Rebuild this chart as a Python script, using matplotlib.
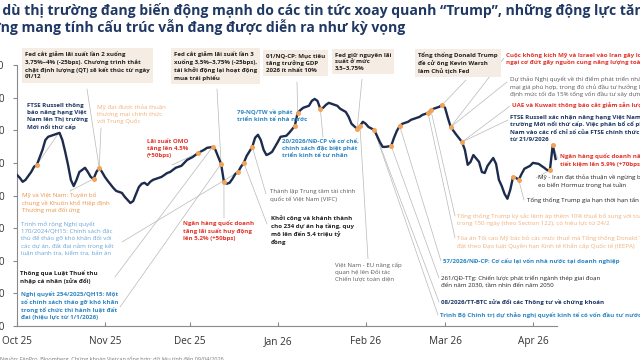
import numpy as np
import pandas as pd
import matplotlib
matplotlib.use("Agg")
import matplotlib.pyplot as plt
import matplotlib.dates as mdates

plt.rcParams["font.family"] = ["Open Sans", "DejaVu Sans"]

# VN-Index path
dates = [
    "2025-10-01", "2025-10-02", "2025-10-03", "2025-10-04", "2025-10-06", "2025-10-07", "2025-10-08",
    "2025-10-10", "2025-10-11", "2025-10-12", "2025-10-14", "2025-10-15", "2025-10-16", "2025-10-17",
    "2025-10-18", "2025-10-19", "2025-10-20", "2025-10-21", "2025-10-22", "2025-10-23", "2025-10-25",
    "2025-10-26", "2025-10-27", "2025-10-28", "2025-10-29", "2025-10-30", "2025-10-31",
    "2025-11-01", "2025-11-02", "2025-11-04", "2025-11-05", "2025-11-07", "2025-11-08", "2025-11-10",
    "2025-11-11", "2025-11-12", "2025-11-13", "2025-11-14", "2025-11-15", "2025-11-16", "2025-11-17",
    "2025-11-18", "2025-11-20", "2025-11-21", "2025-11-23", "2025-11-24", "2025-11-26", "2025-11-28",
    "2025-11-29", "2025-11-30",
    "2025-12-02", "2025-12-04", "2025-12-06", "2025-12-07", "2025-12-09", "2025-12-10", "2025-12-11",
    "2025-12-12", "2025-12-13", "2025-12-14", "2025-12-15", "2025-12-16", "2025-12-17", "2025-12-18",
    "2025-12-19", "2025-12-20", "2025-12-21", "2025-12-23", "2025-12-24", "2025-12-25", "2025-12-26",
    "2025-12-27", "2025-12-28", "2025-12-29", "2025-12-30", "2025-12-31",
    "2026-01-01", "2026-01-02", "2026-01-04", "2026-01-05", "2026-01-07", "2026-01-08", "2026-01-09",
    "2026-01-10", "2026-01-12", "2026-01-13", "2026-01-14", "2026-01-15", "2026-01-16", "2026-01-17",
    "2026-01-18", "2026-01-19", "2026-01-20", "2026-01-22", "2026-01-23", "2026-01-25", "2026-01-26",
    "2026-01-27", "2026-01-29", "2026-01-30", "2026-01-31",
    "2026-02-01", "2026-02-02", "2026-02-04", "2026-02-05", "2026-02-06", "2026-02-07", "2026-02-08",
    "2026-02-10", "2026-02-11", "2026-02-12", "2026-02-13", "2026-02-14", "2026-02-16", "2026-02-17",
    "2026-02-18", "2026-02-20", "2026-02-21", "2026-02-23", "2026-02-24", "2026-02-25", "2026-02-27",
    "2026-02-28",
    "2026-03-01", "2026-03-02", "2026-03-03", "2026-03-05", "2026-03-07", "2026-03-08", "2026-03-09",
    "2026-03-10", "2026-03-11", "2026-03-13", "2026-03-14", "2026-03-15", "2026-03-16", "2026-03-18",
    "2026-03-19", "2026-03-20", "2026-03-21", "2026-03-22", "2026-03-23", "2026-03-24", "2026-03-25",
    "2026-03-26", "2026-03-27", "2026-03-28", "2026-03-29", "2026-03-31",
    "2026-04-01", "2026-04-03", "2026-04-04", "2026-04-05", "2026-04-06", "2026-04-07", "2026-04-08",
    "2026-04-09",
]
vnindex = [
    1663, 1654, 1642, 1648, 1672, 1688, 1694,
    1740, 1770, 1780, 1786, 1789, 1792, 1770,
    1734, 1694, 1648, 1629, 1648, 1672, 1685,
    1672, 1657, 1651, 1672, 1685, 1672,
    1657, 1645, 1623, 1614, 1608, 1596, 1577,
    1583, 1605, 1626, 1636, 1639, 1632, 1642,
    1648, 1654, 1657, 1669, 1672, 1685, 1691,
    1700, 1709,
    1718, 1731, 1740, 1746, 1749, 1740, 1718,
    1697, 1642, 1636, 1639, 1651, 1666, 1672,
    1688, 1700, 1721, 1749, 1777, 1786, 1770,
    1740, 1724, 1728, 1734, 1749,
    1764, 1780, 1783, 1792, 1813, 1853, 1862,
    1869, 1875, 1890, 1896, 1890, 1866, 1869,
    1878, 1884, 1881, 1875, 1866, 1856, 1841,
    1820, 1804, 1813, 1826,
    1820, 1810, 1801, 1783, 1764, 1749, 1749,
    1752, 1777, 1798, 1813, 1820, 1826, 1832,
    1835, 1841, 1847, 1853, 1862, 1866, 1872,
    1878,
    1869, 1838, 1810, 1786, 1764, 1740, 1694,
    1703, 1724, 1703, 1672, 1669, 1691, 1715,
    1697, 1648, 1629, 1605, 1590, 1617, 1657,
    1654, 1648, 1666, 1682, 1691,
    1700, 1697, 1691, 1685, 1678, 1678, 1755,
    1712,
]

# days carrying an event marker
event_dates = [
    "2025-10-08", "2025-10-28", "2025-10-30", "2025-12-04", "2025-12-09", "2025-12-12", "2025-12-13",
    "2025-12-18", "2025-12-20", "2025-12-23", "2026-01-07", "2026-01-08", "2026-01-16", "2026-01-29",
    "2026-01-30", "2026-02-04", "2026-02-10", "2026-02-13", "2026-02-23", "2026-02-24", "2026-02-28",
    "2026-03-03", "2026-03-07", "2026-03-25", "2026-03-27", "2026-04-07", "2026-04-08",
]

month_ticks = ["2025-10-01", "2025-11-01", "2025-12-01", "2026-01-01", "2026-02-01", "2026-03-01", "2026-04-01"]
month_labels = ["Oct 25", "Nov 25", "Dec 25", "Jan 26", "Feb 26", "Mar 26", "Apr 26"]
y_ticks = [1200, 1300, 1400, 1500, 1600, 1700, 1800, 1900, 2000]

TITLE_1 = "Mặc dù thị trường đang biến động mạnh do các tin tức xoay quanh “Trump”, những động lực tăng"
TITLE_2 = "trưởng mang tính cấu trúc vẫn đang được diễn ra như kỳ vọng"
FOOTNOTE = "Nguồn: FiinPro, Bloomberg, Chứng khoán Vietcap tổng hợp; dữ liệu tính đến 09/04/2026"

W, H = 640, 360
NAVY = "#1f3864"
RED = "#e3342b"
ORANGE = "#ec9446"
LORANGE = "#f2b07a"
BLUE = "#2d86c4"
LBLUE = "#6aa5d6"
GRAY = "#5a5a5a"
DARK = "#222222"
BOX = "#f5ede3"
LEAD = "#b8b8b8"
LINE = "#1d2b4d"
DOT = "#f0a359"
NOTE_FS = 4.4
LS = 1.42


def main():
    s = pd.Series(vnindex, index=pd.to_datetime(dates))

    fig = plt.figure(figsize=(W / 100, H / 100), dpi=100)
    ax = fig.add_axes([17 / W, 34 / H, 540 / W, 261 / H])

    ax.plot(s.index, s.values, color=LINE, lw=1.7, solid_joinstyle="round", zorder=3)
    ev = pd.to_datetime(event_dates)
    ax.plot(ev, s.loc[ev].values, "o", color=DOT, ms=3.6, mec="none", zorder=4)

    ax.set_xlim(pd.Timestamp("2025-10-01"), pd.Timestamp("2026-04-09 12:00"))
    ax.set_ylim(1200, 2000)
    ax.set_xticks(pd.to_datetime(month_ticks))
    ax.set_xticklabels(month_labels)
    ax.set_yticks(y_ticks)
    ax.set_yticklabels([f"{v:,}".replace(",", ".") for v in y_ticks])
    for side in ["top", "right"]:
        ax.spines[side].set_visible(False)
    for side in ["left", "bottom"]:
        ax.spines[side].set_color("#8a8a8a")
        ax.spines[side].set_linewidth(0.8)
    ax.tick_params(axis="x", direction="in", length=3, color="#8a8a8a", labelsize=7.2, pad=7, labelcolor="#333333")
    ax.tick_params(axis="y", direction="out", length=3, color="#8a8a8a", labelsize=7.2, pad=6, labelcolor="#333333")

    def note(txt, x, y, color, bold=False, box=False):
        kw = dict(fontsize=NOTE_FS, color=color, fontweight="bold" if bold else "normal",
                  ha="left", va="top", linespacing=LS)
        if box:
            kw["bbox"] = dict(boxstyle="square,pad=0.5", fc=BOX, ec="none")
        fig.text(x / W, 1 - (y - 3.5) / H, txt, **kw)

    def leader(x, y, day):
        d = pd.Timestamp(day)
        ax.annotate("", xy=(mdates.date2num(d), s.loc[d]), xycoords="data",
                    xytext=(x, H - y), textcoords="figure pixels",
                    arrowprops=dict(arrowstyle="-", color=LEAD, lw=0.5, shrinkA=0, shrinkB=0),
                    zorder=1)

    # (text, x, y of first line, colour, bold, boxed, leader start, event day)
    notes = [
        ("Fed cắt giảm lãi suất lần 2 xuống\n3,75%–4% (-25bps). Chương trình thắt\nchặt định lượng (QT) sẽ kết thúc từ ngày\n01/12",
         25, 55, DARK, True, True, (87, 89), "2025-10-30"),
        ("Fed cắt giảm lãi suất lần 3\nxuống 3,5%–3,75% (-25bps),\ntái khởi động lại hoạt động\nmua trái phiếu",
         174, 55, DARK, True, True, (217, 89), "2025-12-12"),
        ("01/NQ-CP: Mục tiêu\ntăng trưởng GDP\n2026 ít nhất 10%",
         266, 57, DARK, True, True, (297, 82), "2026-01-08"),
        ("Fed giữ nguyên lãi\nsuất ở mức\n3,5–3,75%",
         335, 56, DARK, True, True, (362, 79), "2026-01-29"),
        ("Tổng thống Donald Trump\nđề cử ông Kevin Warsh\nlàm Chủ tịch Fed",
         418, 56, DARK, True, True, (466, 80), "2026-02-28"),
        ("FTSE Russell thông\nbáo nâng hạng Việt\nNam lên Thị trường\nMới nổi thứ cấp",
         27, 107, NAVY, True, False, (58, 134), "2025-10-08"),
        ("Mỹ đạt được thỏa thuận\nthương mại chính thức\nvới Trung Quốc",
         97, 108, LORANGE, False, False, (101, 128), "2025-10-30"),
        ("Mỹ và Việt Nam: Tuyên bố\nchung về Khuôn khổ Hiệp định\nThương mại đối ứng",
         22, 196, ORANGE, False, False, (70, 191), "2025-10-28"),
        ("Lãi suất OMO\ntăng lên 4,5%\n(+50bps)",
         147, 143, RED, True, False, (172, 165), "2025-12-04"),
        ("Trình mở rộng Nghị quyết\n170/2024/QH15: Chính sách đặc\nthù để tháo gỡ khó khăn đối với\ncác dự án, đất đai nằm trong kết\nluận thanh tra, kiểm tra, bản án",
         21, 225, LBLUE, False, False, (122, 242), "2025-12-18"),
        ("Thông qua Luật Thuế thu\nnhập cá nhân (sửa đổi)",
         20, 274, DARK, True, False, (115, 277), "2025-12-09"),
        ("Nghị quyết 254/2025/QH15: Một\nsố chính sách tháo gỡ khó khăn\ntrong tổ chức thi hành luật đất\nđai (hiệu lực từ 1/1/2026)",
         21, 295, BLUE, True, False, (120, 307), "2025-12-12"),
        ("Ngân hàng quốc doanh\ntăng lãi suất huy động\nlên 5,2% (+50bps)",
         183, 224, RED, True, False, (224, 218), "2025-12-13"),
        ("79-NQ/TW về phát\ntriển kinh tế nhà nước",
         237, 113, BLUE, True, False, None, None),
        ("20/2026/NĐ-CP về cơ chế,\nchính sách đặc biệt phát\ntriển kinh tế tư nhân",
         282, 143, BLUE, True, False, (323, 137), "2026-01-16"),
        ("Thành lập Trung tâm tài chính\nquốc tế Việt Nam (VIFC)",
         270, 193, GRAY, False, False, (266, 194), "2025-12-23"),
        ("Khởi công và khánh thành\ncho 234 dự án hạ tầng, quy\nmô lên đến 5,4 triệu tỷ\nđồng",
         271, 219, DARK, True, False, (267, 224), "2025-12-20"),
        ("Việt Nam - EU nâng cấp\nquan hệ lên Đối tác\nChiến lược toàn diện",
         335, 266, GRAY, False, False, (368, 259), "2026-01-30"),
        ("Cuộc không kích Mỹ và Israel vào Iran gây lo\nngại cơ đứt gãy nguồn cung năng lượng toàn cầu",
         506, 56, RED, True, False, (504, 58), "2026-03-03"),
        ("Dự thảo Nghị quyết về thí điểm phát triển nhà ở thương\nmại giá phù hợp, trong đó chủ đầu tư hưởng lợi nhuận\nđịnh mức tối đa 15% tổng vốn đầu tư xây dựng",
         510, 80, GRAY, False, False, (507, 82), "2026-03-03"),
        ("UAE và Kuwait thông báo cắt giảm sản lượng dầu",
         512, 106, RED, True, False, (510, 106), "2026-03-07"),
        ("FTSE Russell xác nhận nâng hạng Việt Nam lên Thị\ntrường Mới nổi thứ cấp. Việc phân bổ cổ phiếu Việt\nNam vào các rổ chỉ số của FTSE chính thức thực hiện\ntừ 21/9/2026",
         510, 118, NAVY, True, False, (508, 120), "2026-03-07"),
        ("Ngân hàng quốc doanh nâng lãi suất\ntiết kiệm lên 5,9% (+70bps)",
         560, 157, RED, True, False, (558, 159), "2026-04-08"),
        ("Mỹ - Iran đạt thỏa thuận về ngừng bắn, mở lại\neo biển Hormuz trong hai tuần",
         538, 178, DARK, False, False, (536, 178), "2026-04-07"),
        ("Tổng thống Trump gia hạn thời hạn tấn công các nhà máy điện của Iran",
         527, 201, DARK, False, False, (524, 200), "2026-03-27"),
        ("Tổng thống Trump ký sắc lệnh áp thêm 10% thuế bổ sung với toàn cầu\ntrong 150 ngày (theo Section 122), có hiệu lực từ 24/2",
         457, 217, LORANGE, False, False, (455, 216), "2026-02-24"),
        ("Tòa án Tối cao Mỹ bác bỏ các mức thuế mà Tổng thống Donald Trump\nđặt theo Đạo luật Quyền hạn Kinh tế Khẩn cấp Quốc tế (IEEPA)",
         457, 239, LORANGE, False, False, (455, 238), "2026-02-23"),
        ("57/2026/NĐ-CP: Cơ cấu lại vốn nhà nước tại doanh nghiệp",
         443, 262, BLUE, True, False, (441, 261), "2026-02-13"),
        ("261/QĐ-TTg: Chiến lược phát triển ngành thép giai đoạn\nđến năm 2030, tầm nhìn đến năm 2050",
         441, 279, DARK, False, False, (439, 278), "2026-02-10"),
        ("08/2026/TT-BTC sửa đổi các Thông tư về chứng khoán",
         441, 303, NAVY, True, False, (439, 302), "2026-02-04"),
        ("Trình Bộ Chính trị dự thảo nghị quyết kinh tế có vốn đầu tư nước ngoài",
         440, 316, BLUE, True, False, (438, 315), "2026-02-04"),
    ]
    for txt, x, y, col, bold, box, start, day in notes:
        note(txt, x, y, col, bold, box)
        if start is not None:
            leader(start[0], start[1], day)

    # title, cropped on the left like the source
    r = fig.canvas.get_renderer()
    tkw = dict(fontsize=10.1, fontweight="bold", color=NAVY, va="center", ha="left")

    def width(txt):
        t = fig.text(0, 0, txt, **tkw)
        w = t.get_window_extent(renderer=r).width
        t.remove()
        return w

    off1 = width("Mặc dù") - width("dù")
    off2 = width("trưởng") - width("ng")
    fig.text((2 - off1) / W, 1 - 10 / H, TITLE_1, **tkw)
    fig.text((1 - off2) / W, 1 - 27 / H, TITLE_2, **tkw)

    fig.text(0, 1 - 359 / H, FOOTNOTE, fontsize=4, color="#777777", va="center", ha="left")

    fig.savefig("out.png", dpi=100)


if __name__ == "__main__":
    main()
